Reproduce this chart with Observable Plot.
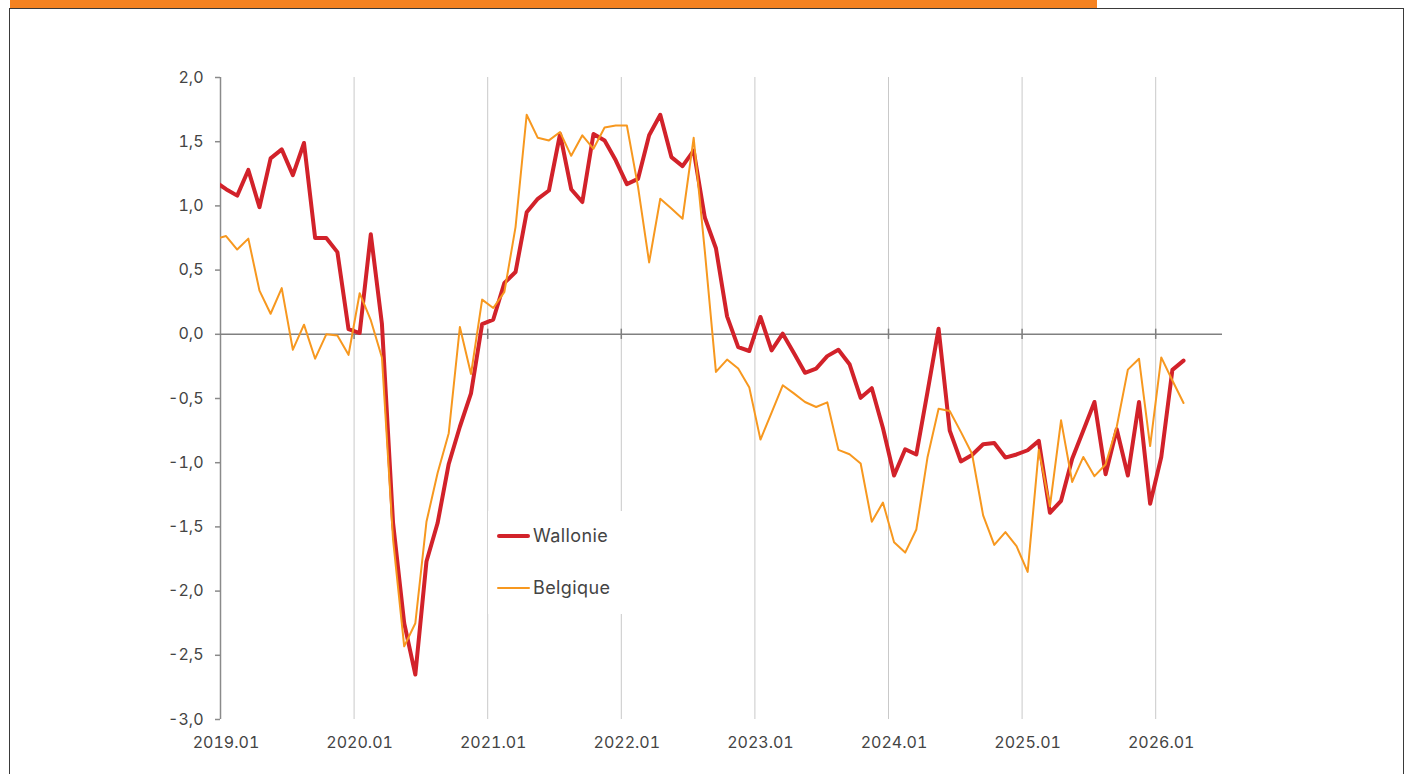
<!DOCTYPE html>
<html>
<head>
<meta charset="utf-8">
<script src="https://cdn.jsdelivr.net/npm/d3@7"></script>
<script src="https://cdn.jsdelivr.net/npm/@observablehq/plot@0.6"></script>
<style>
  html, body { margin: 0; padding: 0; background: #ffffff; }
  #wrap { position: relative; width: 1408px; height: 774px; overflow: hidden; font-family: Inter, "Open Sans", sans-serif; }
  #bar { position: absolute; left: 10px; top: 0; width: 1087px; height: 8px; background: #F58220; }
  #frame { position: absolute; left: 9px; top: 8px; width: 1393px; height: 820px; border: 1px solid #3a3a3a; }
  #chart { position: absolute; left: 0; top: 0; }
  #legend { position: absolute; left: 488px; top: 511px; width: 138px; height: 103px; background: #ffffff; }
  .item { position: absolute; left: 9px; height: 22px; display: flex; align-items: center; color: #444; font-size: 18px; letter-spacing: 0.4px; }
  .swatch { width: 33px; margin-right: 3px; border-radius: 2px; }
</style>
</head>
<body>
<div id="wrap">
  <div id="bar"></div>
  <div id="frame"></div>
  <div id="chart"></div>
  <div id="legend"></div>
</div>
<script>
// ---- Data ----
const seriesNames = ["Wallonie", "Belgique"];
const seriesColors = ["#D2222A", "#F7981F"];
const seriesWidths = [4, 2];

// Monthly observations from 2018.12 (partly outside the axis) to 2026.03
const startYear = 2018, startMonth = 12;

const wallonie = [
  1.19,
  1.13, 1.08, 1.28, 0.99, 1.37, 1.44, 1.24, 1.49, 0.75, 0.75, 0.64, 0.04,
  0.01, 0.78, 0.08, -1.47, -2.25, -2.65, -1.77, -1.47, -1.01, -0.72, -0.46, 0.08,
  0.115, 0.40, 0.485, 0.95, 1.055, 1.12, 1.56, 1.13, 1.03, 1.56, 1.51, 1.355,
  1.17, 1.21, 1.55, 1.71, 1.38, 1.31, 1.43, 0.91, 0.67, 0.14, -0.10, -0.13,
  0.135, -0.125, 0.005, -0.145, -0.30, -0.267, -0.17, -0.12, -0.233, -0.495, -0.42, -0.73,
  -1.10, -0.895, -0.936, -0.45, 0.044, -0.75, -0.99, -0.94, -0.856, -0.846, -0.96, -0.936,
  -0.903, -0.83, -1.39, -1.297, -0.97, -0.75, -0.527, -1.09, -0.74, -1.10, -0.527, -1.32,
  -0.955, -0.277, -0.205
];

const belgique = [
  0.74,
  0.765, 0.66, 0.745, 0.34, 0.16, 0.36, -0.12, 0.075, -0.19, 0.0, -0.01, -0.16,
  0.32, 0.11, -0.18, -1.60, -2.43, -2.25, -1.46, -1.08, -0.77, 0.057, -0.31, 0.27,
  0.205, 0.33, 0.835, 1.71, 1.53, 1.51, 1.575, 1.39, 1.55, 1.445, 1.61, 1.626,
  1.626, 1.15, 0.56, 1.056, 0.98, 0.90, 1.53, 0.65, -0.293, -0.197, -0.267, -0.415,
  -0.82, -0.61, -0.397, -0.46, -0.527, -0.566, -0.53, -0.90, -0.934, -1.006, -1.46, -1.31,
  -1.62, -1.70, -1.52, -0.96, -0.58, -0.597, -0.76, -0.93, -1.41, -1.64, -1.54, -1.65,
  -1.85, -0.90, -1.34, -0.67, -1.15, -0.955, -1.105, -1.014, -0.72, -0.275, -0.19, -0.87,
  -0.18, -0.36, -0.535
];

const xTickYears = [2019, 2020, 2021, 2022, 2023, 2024, 2025, 2026];
const xTickLabels = ["2019.01", "2020.01", "2021.01", "2022.01", "2023.01", "2024.01", "2025.01", "2026.01"];
const yTicks = [-3, -2.5, -2, -1.5, -1, -0.5, 0, 0.5, 1, 1.5, 2];

// ---- Build table ----
function monthPos(i) {
  const m0 = (startMonth - 1) + i;
  const y = startYear + Math.floor(m0 / 12);
  const m = m0 % 12;
  return y + (m + 0.5) / 12; // middle of the month
}
const rows = [];
[wallonie, belgique].forEach((arr, s) => {
  arr.forEach((v, i) => rows.push({t: monthPos(i), value: v, series: seriesNames[s]}));
});

const fmtY = d => d.toFixed(1).replace(".", ",");
const fmtX = d => xTickLabels[xTickYears.indexOf(d)];

const chart = Plot.plot({
  width: 1408,
  height: 774,
  marginLeft: 220,
  marginRight: 186,
  marginTop: 77,
  marginBottom: 55,
  style: {background: "transparent", fontFamily: "Inter, 'Open Sans', sans-serif", fontSize: "16px", color: "#444", overflow: "visible"},
  x: {type: "linear", domain: [2019, 2026.5]},
  y: {domain: [-3, 2]},
  marks: [
    // vertical gridlines
    Plot.ruleX(xTickYears.slice(1), {y1: -3, y2: 2, stroke: "#c9c9c9", strokeWidth: 1}),
    // y axis
    Plot.axisY({ticks: yTicks, tickFormat: fmtY, tickSize: 5, tickPadding: 12, stroke: "#8a8a8a", strokeWidth: 1.5, fill: "#444", label: null, fontSize: 16}),
    Plot.ruleX([2019], {y1: -3, y2: 2, stroke: "#8a8a8a", strokeWidth: 1.5}),
    // x axis labels at bottom (centred on the January observation)
    Plot.axisX({ticks: xTickYears, tickFormat: fmtX, tickSize: 0, tickPadding: 17, dx: 5.5, fill: "#444", label: null, fontSize: 16}),
    // zero line with tick marks
    Plot.ruleY([0], {stroke: "#808080", strokeWidth: 1.5}),
    Plot.ruleX(xTickYears.slice(1), {y1: -0.04, y2: 0.04, stroke: "#808080", strokeWidth: 1.5}),
    // series
    Plot.line(rows.filter(d => d.series === seriesNames[0]), {x: "t", y: "value", stroke: seriesColors[0], strokeWidth: seriesWidths[0], clip: true}),
    Plot.line(rows.filter(d => d.series === seriesNames[1]), {x: "t", y: "value", stroke: seriesColors[1], strokeWidth: seriesWidths[1], clip: true})
  ]
});
document.getElementById("chart").appendChild(chart);

// ---- Legend ----
const legend = document.getElementById("legend");
seriesNames.forEach((name, i) => {
  const item = document.createElement("div");
  item.className = "item";
  item.style.top = (i === 0 ? 13.5 : 65.5) + "px";
  const sw = document.createElement("div");
  sw.className = "swatch";
  sw.style.height = seriesWidths[i] + "px";
  sw.style.background = seriesColors[i];
  const label = document.createElement("span");
  label.textContent = name;
  item.appendChild(sw);
  item.appendChild(label);
  legend.appendChild(item);
});
</script>
</body>
</html>
